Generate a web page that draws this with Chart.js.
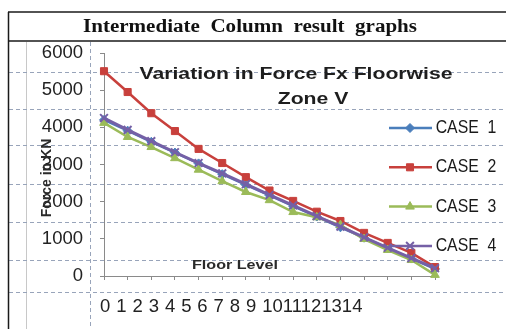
<!DOCTYPE html>
<html><head><meta charset="utf-8">
<script src="https://cdn.jsdelivr.net/npm/chart.js@4/dist/chart.umd.min.js"></script>
<style>html,body{margin:0;padding:0;background:#fff;overflow:hidden}#wrap{position:relative;width:506px;height:329px}</style>
</head><body><div id="wrap"><canvas id="c" width="506" height="329"></canvas></div>
<script>
// ---- data ----
const floors = ['0','1','2','3','4','5','6','7','8','9','10','11','12','13','14'];
const case1 = [4200, 3910, 3610, 3320, 3030, 2740, 2450, 2170, 1880, 1600, 1310, 1030, 750, 470, 190];
const case2 = [5510, 4950, 4380, 3900, 3420, 3040, 2660, 2300, 2020, 1730, 1480, 1160, 890, 620, 240];
const case3 = [4120, 3740, 3470, 3170, 2860, 2550, 2260, 2040, 1720, 1580, 1370, 995, 700, 430, 30];
const case4 = [4250, 3930, 3630, 3330, 3040, 2760, 2470, 2180, 1900, 1610, 1330, 1040, 760, 480, 210];
const seriesNames = ['CASE  1', 'CASE  2', 'CASE  3', 'CASE  4'];
const yTickValues = [0, 1000, 2000, 3000, 4000, 5000, 6000];
const titleLines = ['Variation in Force Fx Floorwise', 'Zone V'];
const headerText = 'Intermediate  Column  result  graphs';
const xTitle = 'Floor Level';
const yTitle = 'Force in KN';

// ---- styles / layout ----
const colors = ['#4a7ebb', '#c8403c', '#9bbb59', '#7560a6'];
const styles = ['rectRot', 'rect', 'triangle', 'crossRot'];
const radii = [4.5, 5, 5, 5.5];
const sheetRows = [72, 109, 145, 184, 222, 260, 292];
const sheetCols = [90];

function fitText(ctx, text, cx, cy, font, width, color, scaleOverride) {
  ctx.save();
  ctx.font = font;
  const w = ctx.measureText(text).width;
  const s = scaleOverride || (width / w);
  ctx.translate(cx, cy);
  ctx.scale(s, 1);
  ctx.fillStyle = color;
  ctx.textAlign = 'center';
  ctx.textBaseline = 'middle';
  ctx.fillText(text, 0, 0);
  ctx.restore();
  return s;
}

const sheetPlugin = {
  id: 'sheet',
  beforeDraw(chart) {
    const ctx = chart.ctx;
    ctx.save();
    ctx.fillStyle = '#fff';
    ctx.fillRect(0, 0, chart.width, chart.height);
    ctx.strokeStyle = '#c8c8c8'; ctx.lineWidth = 1;
    ctx.beginPath(); ctx.moveTo(26.5, 42); ctx.lineTo(26.5, 329); ctx.stroke();
    ctx.strokeStyle = '#98a4ba'; ctx.lineWidth = 1; ctx.setLineDash([4, 3]);
    sheetRows.forEach(y => { ctx.beginPath(); ctx.moveTo(9, y + 0.5); ctx.lineTo(506, y + 0.5); ctx.stroke(); });
    sheetCols.forEach(x => { ctx.beginPath(); ctx.moveTo(x + 0.5, 42); ctx.lineTo(x + 0.5, 329); ctx.stroke(); });
    ctx.setLineDash([]);
    ctx.strokeStyle = '#1a1a1a'; ctx.lineWidth = 1.5;
    ctx.beginPath(); ctx.moveTo(8, 12); ctx.lineTo(506, 12); ctx.stroke();
    ctx.beginPath(); ctx.moveTo(8, 41); ctx.lineTo(506, 41); ctx.stroke();
    ctx.beginPath(); ctx.moveTo(8.5, 12); ctx.lineTo(8.5, 329); ctx.stroke();
    ctx.restore();
  },
  afterDraw(chart) {
    const ctx = chart.ctx;
    fitText(ctx, headerText, 250, 27, 'bold 18px "Liberation Serif"', 334, '#111');
    const s = fitText(ctx, titleLines[0], 296, 74, 'bold 17px "Liberation Sans"', 313, '#1e1e1e');
    fitText(ctx, titleLines[1], 313, 99, 'bold 17px "Liberation Sans"', 0, '#1e1e1e', s);
    fitText(ctx, xTitle, 235, 265, 'bold 13.5px "Liberation Sans"', 86, '#2a2a2a');
    ctx.save();
    ctx.translate(47, 178);
    ctx.rotate(-Math.PI / 2);
    ctx.font = 'bold 14px "Liberation Sans"';
    ctx.fillStyle = '#2a2a2a';
    ctx.textAlign = 'center'; ctx.textBaseline = 'middle';
    ctx.fillText(yTitle, 0, 0);
    ctx.restore();
    ctx.save();
    ctx.font = '18.5px "Liberation Sans"';
    ctx.fillStyle = '#222';
    ctx.textAlign = 'left'; ctx.textBaseline = 'middle';
    if ('wordSpacing' in ctx) ctx.wordSpacing = '0.8px';
    const row = floors.map(f => f.length > 1 ? f : f + ' ').join('');
    ctx.fillText(row, 100, 307);
    ctx.restore();
    chart.data.datasets.forEach((ds, i) => {
      const y = 128 + i * 39.3;
      ctx.save();
      ctx.strokeStyle = ds.borderColor; ctx.lineWidth = 2.5;
      ctx.beginPath(); ctx.moveTo(389, y); ctx.lineTo(432, y); ctx.stroke();
      ctx.fillStyle = ds.pointBackgroundColor; ctx.strokeStyle = ds.pointBorderColor;
      ctx.lineWidth = ds.pointBorderWidth;
      Chart.helpers.drawPoint(ctx, { pointStyle: ds.pointStyle, radius: ds.pointRadius, rotation: 0, borderWidth: ds.pointBorderWidth }, 410, y);
      ctx.restore();
      fitText(ctx, ds.label, 466, y, '18px "Liberation Sans"', 0, '#1a1a1a', 0.88);
    });
  }
};

const datasets = [case1, case2, case3, case4].map((vals, i) => ({
  label: seriesNames[i],
  data: vals,
  borderColor: colors[i],
  backgroundColor: colors[i],
  pointBackgroundColor: colors[i],
  pointBorderColor: colors[i],
  pointBorderWidth: styles[i] === 'crossRot' ? 2 : 1,
  pointStyle: styles[i],
  pointRadius: radii[i],
  borderWidth: i === 3 ? 3 : 2.5,
  tension: 0,
  clip: false,
  order: 4 - i
}));

new Chart(document.getElementById('c'), {
  type: 'line',
  data: { labels: floors, datasets },
  options: {
    responsive: false,
    animation: false,
    devicePixelRatio: 1,
    events: [],
    layout: { padding: { top: 53, right: 71, bottom: 0, left: 0 } },
    plugins: { legend: { display: false }, title: { display: false }, tooltip: { enabled: false } },
    scales: {
      x: {
        offset: false,
        grid: { drawOnChartArea: false, drawTicks: true, tickLength: 4, color: '#8a8a8a' },
        border: { color: '#8a8a8a', width: 1 },
        ticks: { display: false, autoSkip: false },
        afterFit: s => { s.height = 53; }
      },
      y: {
        min: 0, max: 6000,
        afterBuildTicks: s => { s.ticks = yTickValues.map(v => ({ value: v })); },
        grid: { drawOnChartArea: false, drawTicks: true, tickLength: 4, color: '#8a8a8a' },
        border: { color: '#8a8a8a', width: 1 },
        ticks: { padding: 17, color: '#222', font: { family: 'Liberation Sans', size: 18.5 }, callback: v => String(v) },
        afterFit: s => { s.width = 104; }
      }
    }
  },
  plugins: [sheetPlugin]
});
</script>
</body></html>
